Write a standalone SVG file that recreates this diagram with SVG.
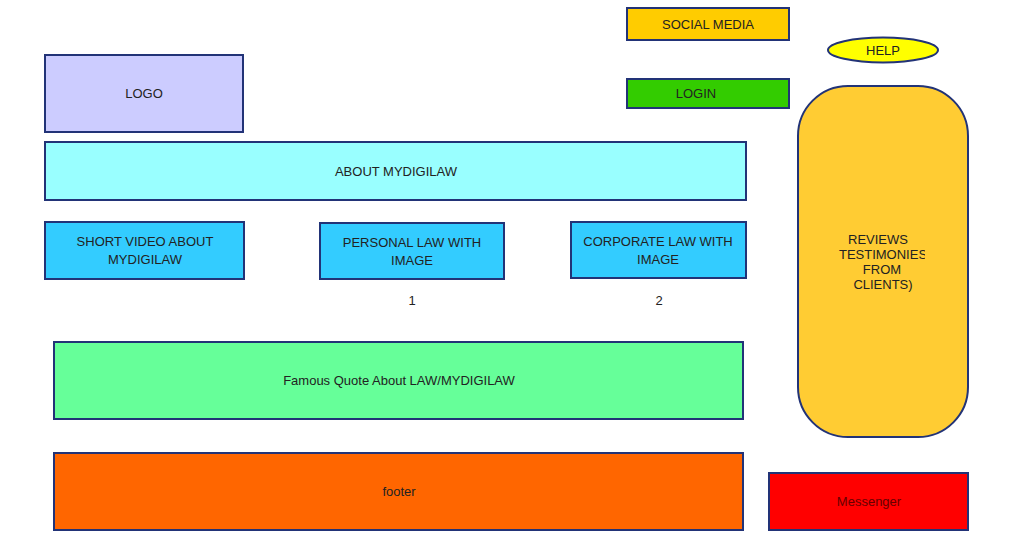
<svg xmlns="http://www.w3.org/2000/svg" width="1013" height="551" viewBox="0 0 1013 551">
<style>
.b{stroke:#223377;stroke-width:2}
.t{font-family:"Liberation Sans",Arial,sans-serif;font-size:13px;fill:#222;text-anchor:middle}
</style>
<defs>
<clipPath id="rc"><rect x="800" y="88" width="125" height="348"/></clipPath>
</defs>
<rect width="1013" height="551" fill="#fff"/>
<g id="social"><rect class="b" x="627" y="8" width="162" height="32" fill="#FFCC00"/><text class="t" x="708" y="29">SOCIAL MEDIA</text></g>
<g id="help"><ellipse class="b" cx="883" cy="50" rx="55" ry="12.5" fill="#FFFF00"/><text class="t" x="883" y="55">HELP</text></g>
<g id="login"><rect class="b" x="627" y="79" width="162" height="29" fill="#33CC00"/><text class="t" x="696" y="98">LOGIN</text></g>
<g id="logo"><rect class="b" x="45" y="55" width="198" height="77" fill="#CCCCFF"/><text class="t" x="144" y="98">LOGO</text></g>
<g id="about"><rect class="b" x="45" y="142" width="701" height="58" fill="#99FFFF"/><text class="t" x="396" y="176">ABOUT MYDIGILAW</text></g>
<g id="video"><rect class="b" x="45" y="222" width="199" height="57" fill="#33CCFF"/><text class="t" x="145" y="246">SHORT VIDEO ABOUT</text><text class="t" x="145" y="264">MYDIGILAW</text></g>
<g id="personal"><rect class="b" x="320" y="223" width="184" height="56" fill="#33CCFF"/><text class="t" x="412" y="247">PERSONAL LAW WITH</text><text class="t" x="412" y="265">IMAGE</text></g>
<g id="corporate"><rect class="b" x="571" y="222" width="175" height="56" fill="#33CCFF"/><text class="t" x="658" y="246">CORPORATE LAW WITH</text><text class="t" x="658" y="264">IMAGE</text></g>
<g id="n1"><text class="t" x="412" y="305">1</text></g>
<g id="n2"><text class="t" x="659" y="305">2</text></g>
<g id="quote"><rect class="b" x="54" y="342" width="689" height="77" fill="#66FF99"/><text class="t" x="399" y="385">Famous Quote About LAW/MYDIGILAW</text></g>
<g id="footer"><rect class="b" x="54" y="453" width="689" height="77" fill="#FF6600"/><text class="t" x="399" y="496">footer</text></g>
<g id="reviews"><rect class="b" x="798" y="86" width="170" height="351" rx="50" ry="50" fill="#FFCC33"/>
<g clip-path="url(#rc)"><text class="t" x="878" y="244">REVIEWS</text><text class="t" x="883" y="259">TESTIMONIES</text><text class="t" x="882" y="274">FROM</text><text class="t" x="883" y="289">CLIENTS)</text></g></g>
<g id="messenger"><rect class="b" x="769" y="473" width="199" height="57" fill="#FF0000"/><text class="t" x="869" y="506" style="fill:#660000">Messenger</text></g>
<g id="connectors"/>
</svg>
